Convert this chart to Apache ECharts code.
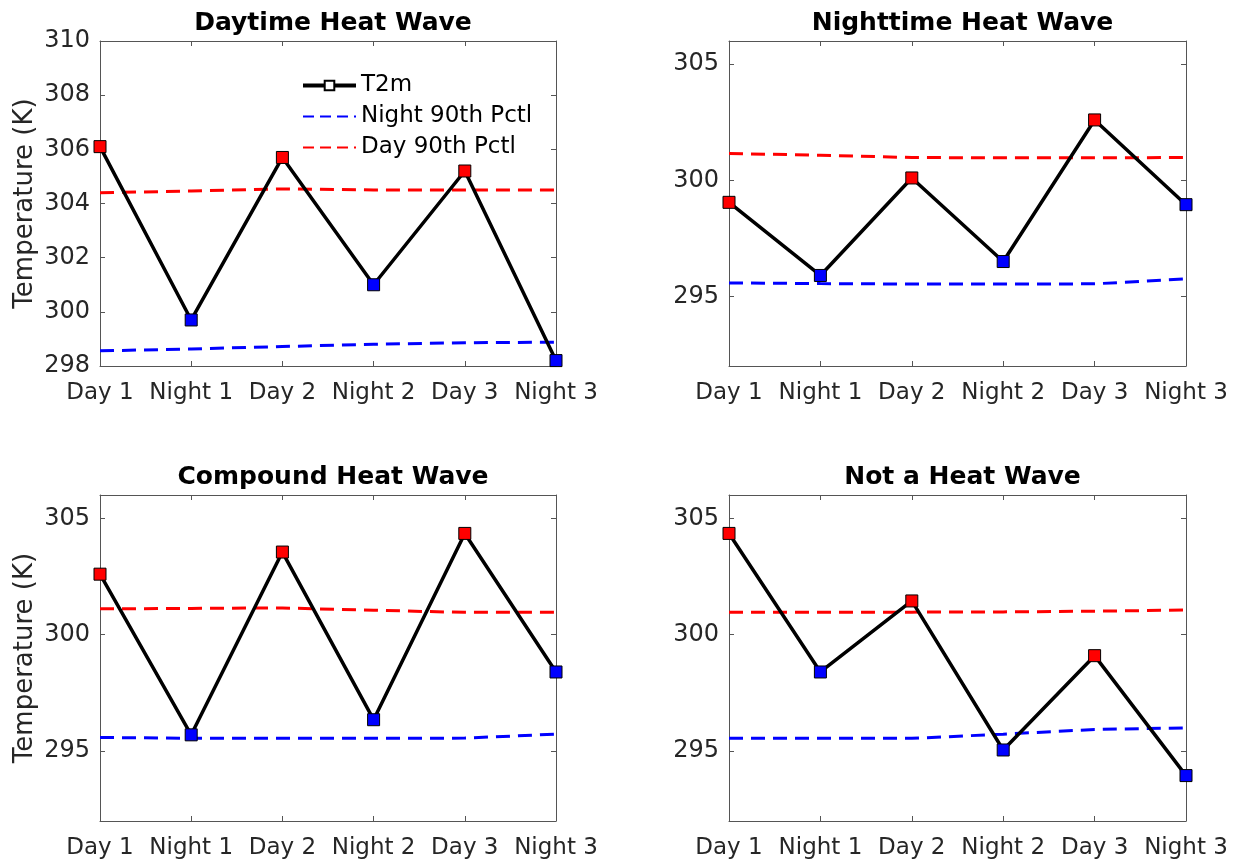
<!DOCTYPE html>
<html>
<head>
<meta charset="utf-8">
<title>2 m temperature during heat wave events</title>
<script src="https://cdn.jsdelivr.net/npm/echarts@6/dist/echarts.min.js"></script>
<style>
  html, body { margin: 0; padding: 0; background: #ffffff; }
  #chart { width: 1242px; height: 864px; }
</style>
</head>
<body>
<div id="chart"></div>
<script>
// Time steps of a three-day event
const categories = ['Day 1', 'Night 1', 'Day 2', 'Night 2', 'Day 3', 'Night 3'];

const panelTitles = ['Daytime Heat Wave', 'Nighttime Heat Wave', 'Compound Heat Wave', 'Not a Heat Wave'];

// 2 m temperature (K) at each time step
const t2mDaytime   = [306.1, 299.7, 305.7, 301.0, 305.2, 298.2];
const t2mNighttime = [299.05, 295.9, 300.1, 296.5, 302.6, 298.95];
const t2mCompound  = [302.6, 295.7, 303.55, 296.35, 304.35, 298.4];
const t2mNone      = [304.35, 298.4, 301.45, 295.05, 299.1, 293.95];

// Nighttime 90th percentile threshold (K)
const nightPctlDaytime   = [298.56, 298.63, 298.72, 298.8, 298.86, 298.88];
const nightPctlNighttime = [295.58, 295.55, 295.53, 295.53, 295.54, 295.75];
const nightPctlCompound  = [295.59, 295.55, 295.55, 295.55, 295.56, 295.73];
const nightPctlNone      = [295.55, 295.55, 295.55, 295.73, 295.93, 296.0];

// Daytime 90th percentile threshold (K)
const dayPctlDaytime   = [304.4, 304.46, 304.54, 304.5, 304.5, 304.5];
const dayPctlNighttime = [301.15, 301.08, 300.98, 300.97, 300.97, 300.98];
const dayPctlCompound  = [301.11, 301.13, 301.15, 301.05, 300.96, 300.96];
const dayPctlNone      = [300.96, 300.96, 300.97, 300.98, 301.01, 301.06];

// y-axis ranges and tick values
const yRangeDaytime = [298, 310];
const yRangeOther   = [292, 306];
const yTicksDaytime = [298, 300, 302, 304, 306, 308, 310];
const yTicksOther   = [295, 300, 305];

const FONT = 'DejaVu Sans';
const AXIS_COLOR = '#555555';
const LABEL_COLOR = '#262626';
const DAY_COLOR = '#ff0000';
const NIGHT_COLOR = '#0000ff';

const panels = [
  { title: panelTitles[0], t2m: t2mDaytime,   night: nightPctlDaytime,   day: dayPctlDaytime,   range: yRangeDaytime, ticks: yTicksDaytime, yName: true },
  { title: panelTitles[1], t2m: t2mNighttime, night: nightPctlNighttime, day: dayPctlNighttime, range: yRangeOther,   ticks: yTicksOther,   yName: false },
  { title: panelTitles[2], t2m: t2mCompound,  night: nightPctlCompound,  day: dayPctlCompound,  range: yRangeOther,   ticks: yTicksOther,   yName: true },
  { title: panelTitles[3], t2m: t2mNone,      night: nightPctlNone,      day: dayPctlNone,      range: yRangeOther,   ticks: yTicksOther,   yName: false }
];

// Plot boxes in a 2 x 2 layout
const boxes = [
  { left: 100, top: 41,  width: 456, height: 325 },
  { left: 729, top: 41,  width: 457, height: 325 },
  { left: 100, top: 495, width: 456, height: 326 },
  { left: 729, top: 495, width: 457, height: 326 }
];

const DASH = [14, 8];

const grid = [], xAxis = [], yAxis = [], series = [], title = [];

panels.forEach((p, i) => {
  const b = boxes[i];
  grid.push({ left: b.left, top: b.top, width: b.width, height: b.height, containLabel: false });

  title.push({
    text: p.title,
    left: b.left + b.width / 2,
    top: b.top - 35,
    textAlign: 'center',
    textStyle: { fontFamily: FONT, fontSize: 25, fontWeight: 'bold', color: '#000000' }
  });

  const lineStyle = { color: AXIS_COLOR, width: 1 };
  ['bottom', 'top'].forEach(pos => {
    xAxis.push({
      gridIndex: i,
      type: 'category',
      data: categories,
      boundaryGap: false,
      position: pos,
      axisLine: { show: true, onZero: false, lineStyle },
      axisTick: { show: true, inside: true, length: 5, lineStyle },
      axisLabel: {
        show: pos === 'bottom',
        fontFamily: FONT, fontSize: 23, color: LABEL_COLOR, margin: 16,
        interval: 0
      },
      splitLine: { show: false }
    });
  });

  ['left', 'right'].forEach(pos => {
    const ax = {
      gridIndex: i,
      type: 'value',
      min: p.range[0],
      max: p.range[1],
      position: pos,
      axisLine: { show: true, onZero: false, lineStyle },
      axisTick: { show: true, inside: true, length: 5, lineStyle, customValues: p.ticks },
      axisLabel: {
        show: pos === 'left',
        customValues: p.ticks,
        fontFamily: FONT, fontSize: 24, color: LABEL_COLOR, margin: 10
      },
      splitLine: { show: false }
    };
    if (pos === 'left' && p.yName) {
      ax.name = 'Temperature (K)';
      ax.nameLocation = 'middle';
      ax.nameGap = 62;
      ax.nameTextStyle = { fontFamily: FONT, fontSize: 26, color: LABEL_COLOR };
    }
    yAxis.push(ax);
  });

  const xi = 2 * i, yi = 2 * i;

  series.push({
    name: 'Night 90th Pctl',
    type: 'line',
    xAxisIndex: xi, yAxisIndex: yi,
    data: p.night,
    symbol: 'none',
    itemStyle: { color: NIGHT_COLOR },
    lineStyle: { color: NIGHT_COLOR, width: 3, type: DASH },
    z: 2,
    silent: true
  });
  series.push({
    name: 'Day 90th Pctl',
    type: 'line',
    xAxisIndex: xi, yAxisIndex: yi,
    data: p.day,
    symbol: 'none',
    itemStyle: { color: DAY_COLOR },
    lineStyle: { color: DAY_COLOR, width: 3, type: DASH },
    z: 2,
    silent: true
  });
  series.push({
    name: 'T2m',
    type: 'line',
    xAxisIndex: xi, yAxisIndex: yi,
    data: p.t2m.map((v, k) => ({
      value: v,
      itemStyle: { color: categories[k].startsWith('Day') ? DAY_COLOR : NIGHT_COLOR }
    })),
    symbol: 'rect',
    symbolSize: 12,
    showAllSymbol: true,
    itemStyle: { color: '#ffffff', borderColor: '#000000', borderWidth: 1 },
    lineStyle: { color: '#000000', width: 3.5 },
    z: 3,
    silent: true
  });
});

// Threshold entries show only their dashed line in the legend
const hiddenSymbol = { opacity: 0, color: 'rgba(0,0,0,0)', borderWidth: 0 };

const chart = echarts.init(document.getElementById('chart'), null, { renderer: 'canvas' });
chart.setOption({
  animation: false,
  backgroundColor: '#ffffff',
  title,
  grid,
  xAxis,
  yAxis,
  series,
  legend: {
    data: [
      { name: 'T2m', lineStyle: { width: 4 } },
      { name: 'Night 90th Pctl', itemStyle: hiddenSymbol, lineStyle: { type: [11, 6] } },
      { name: 'Day 90th Pctl', itemStyle: hiddenSymbol, lineStyle: { type: [11, 6] } }
    ],
    orient: 'vertical',
    left: 296,
    top: 69,
    itemWidth: 53,
    itemHeight: 12,
    itemGap: 8,
    selectedMode: false,
    textStyle: { fontFamily: FONT, fontSize: 23, color: '#000000' }
  }
});
</script>
</body>
</html>
